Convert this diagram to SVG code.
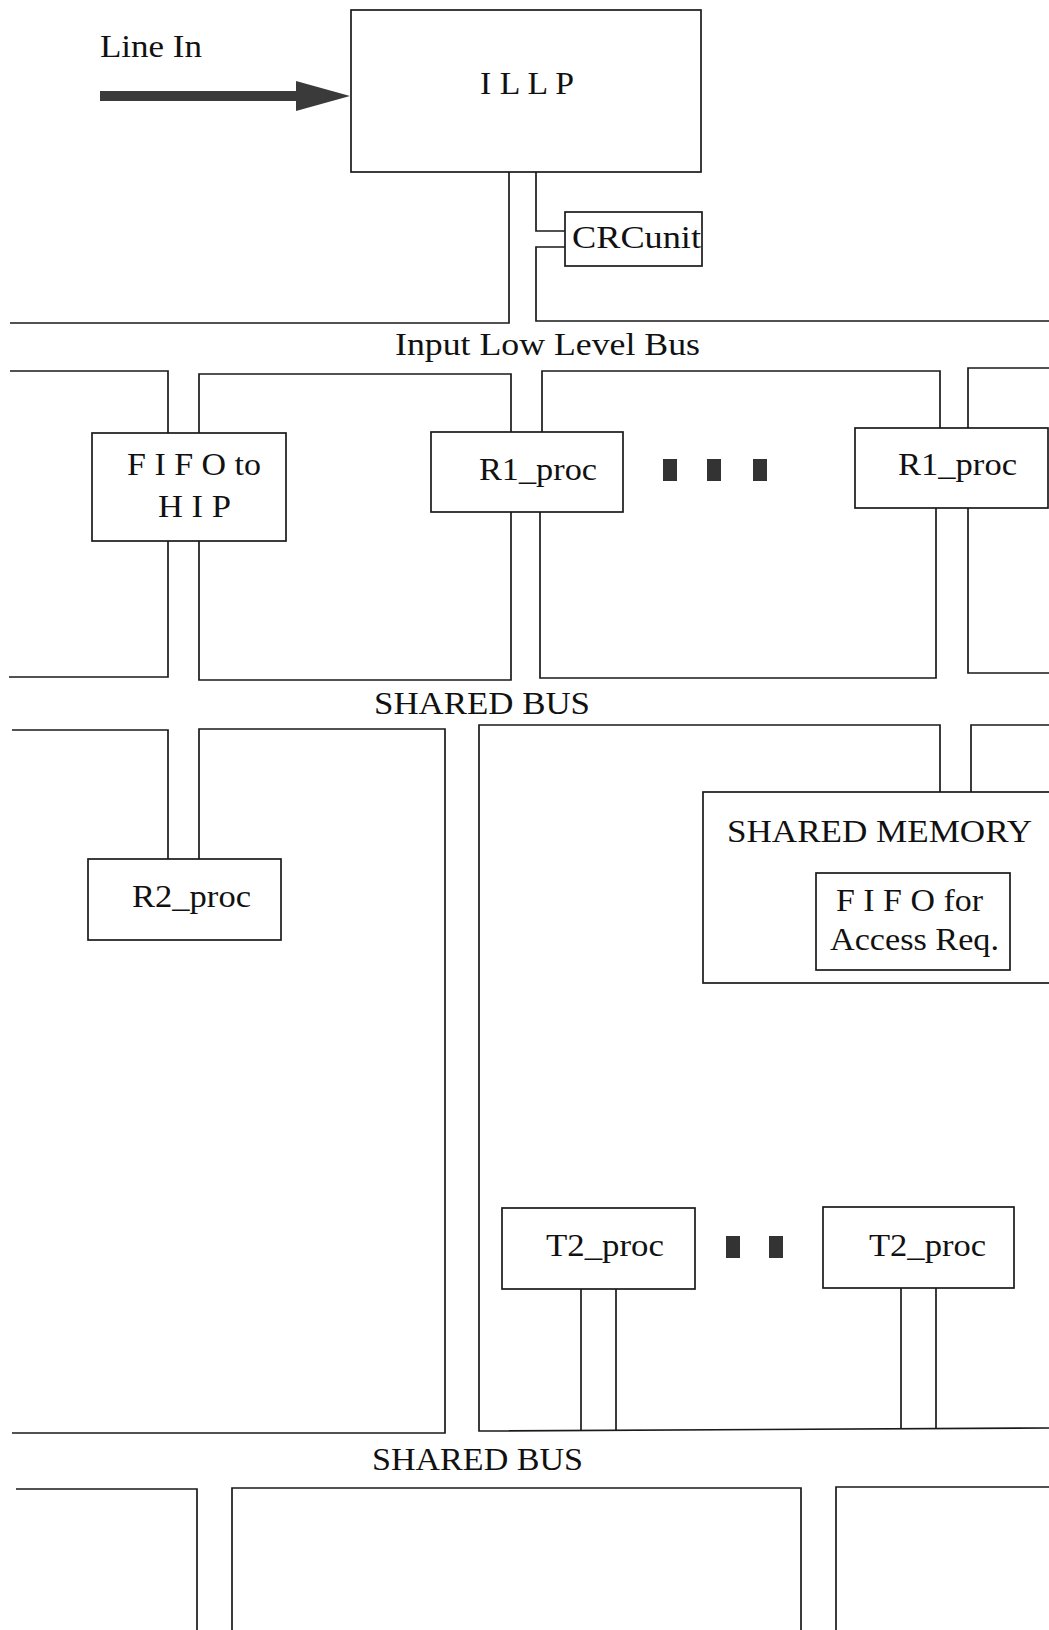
<svg xmlns="http://www.w3.org/2000/svg" width="1049" height="1630" viewBox="0 0 1049 1630">
<defs>
<style>
.box{fill:#fff;stroke:#1a1a1a;stroke-width:1.7}
.wire{fill:none;stroke:#1a1a1a;stroke-width:1.7}
.t{font-family:"Liberation Serif","DejaVu Serif",serif;font-size:31px;fill:#111}
.dot{fill:#333}
</style>
</defs>
<rect x="0" y="0" width="1049" height="1630" fill="#fff"/>

<g id="line-in">
<text class="t" x="100" y="57" textLength="102" lengthAdjust="spacingAndGlyphs">Line In</text>
<rect x="100" y="91" width="198" height="10" fill="#3a3a3a"/>
<polygon points="296,81 350,96 296,111" fill="#3a3a3a"/>
</g>

<g id="connectors">
<path class="wire" d="M509 172 V323 H10"/>
<path class="wire" d="M536 172 V231 H565"/>
<path class="wire" d="M565 247 H536 V321 H1049"/>
<path class="wire" d="M10 371 H168 V433"/>
<path class="wire" d="M199 433 V374 H511 V432"/>
<path class="wire" d="M542 432 V371 H940 V428"/>
<path class="wire" d="M968 428 V368 H1049"/>
<path class="wire" d="M168 541 V677 H9"/>
<path class="wire" d="M199 541 V680 H511 V512"/>
<path class="wire" d="M540 512 V678 H936 V508"/>
<path class="wire" d="M968 508 V673 H1049"/>
<path class="wire" d="M12 730 H168 V859"/>
<path class="wire" d="M199 859 V729 H445 V1433 H12"/>
<path class="wire" d="M940 792 V725 H479 V1431 L1049 1428"/>
<path class="wire" d="M581 1289 V1431"/>
<path class="wire" d="M616 1289 V1431"/>
<path class="wire" d="M901 1288 V1429"/>
<path class="wire" d="M936 1288 V1429"/>
<path class="wire" d="M971 792 V725 H1049"/>
<path class="wire" d="M16 1489 H197 V1630"/>
<path class="wire" d="M232 1630 V1488 H801 V1630"/>
<path class="wire" d="M836 1630 V1487 H1049"/>
</g>

<g id="illp">
<rect class="box" x="351" y="10" width="350" height="162"/>
<text class="t" x="480" y="94" textLength="94" lengthAdjust="spacingAndGlyphs">I L L P</text>
</g>

<g id="crcunit">
<rect class="box" x="565" y="212" width="137" height="54"/>
<text class="t" x="572" y="248" textLength="129" lengthAdjust="spacingAndGlyphs">CRCunit</text>
</g>

<g id="label-input-bus">
<text class="t" x="395" y="355" textLength="305" lengthAdjust="spacingAndGlyphs">Input Low Level Bus</text>
</g>

<g id="fifo-hip">
<rect class="box" x="92" y="433" width="194" height="108"/>
<text class="t" x="127" y="475" textLength="134" lengthAdjust="spacingAndGlyphs">F I F O to</text>
<text class="t" x="158" y="517" textLength="73" lengthAdjust="spacingAndGlyphs">H I P</text>
</g>

<g id="r1proc-1">
<rect class="box" x="431" y="432" width="192" height="80"/>
<text class="t" x="479" y="480" textLength="118" lengthAdjust="spacingAndGlyphs">R1_proc</text>
</g>

<g id="dots-r1">
<rect class="dot" x="663" y="459" width="14" height="22"/>
<rect class="dot" x="707" y="459" width="14" height="22"/>
<rect class="dot" x="753" y="459" width="14" height="22"/>
</g>

<g id="r1proc-2">
<rect class="box" x="855" y="428" width="193" height="80"/>
<text class="t" x="898" y="475" textLength="119" lengthAdjust="spacingAndGlyphs">R1_proc</text>
</g>

<g id="label-shared-bus-1">
<text class="t" x="374" y="714" textLength="216" lengthAdjust="spacingAndGlyphs">SHARED BUS</text>
</g>

<g id="r2proc">
<rect class="box" x="88" y="859" width="193" height="81"/>
<text class="t" x="132" y="907" textLength="119" lengthAdjust="spacingAndGlyphs">R2_proc</text>
</g>

<g id="shared-memory">
<rect class="box" x="703" y="792" width="360" height="191"/>
<text class="t" x="727" y="842" textLength="305" lengthAdjust="spacingAndGlyphs">SHARED MEMORY</text>
</g>

<g id="fifo-access">
<rect class="box" x="816" y="873" width="194" height="97"/>
<text class="t" x="836" y="911" textLength="147" lengthAdjust="spacingAndGlyphs">F I F O for</text>
<text class="t" x="830" y="950" textLength="169" lengthAdjust="spacingAndGlyphs">Access Req.</text>
</g>

<g id="t2proc-1">
<rect class="box" x="502" y="1208" width="193" height="81"/>
<text class="t" x="546" y="1256" textLength="118" lengthAdjust="spacingAndGlyphs">T2_proc</text>
</g>

<g id="dots-t2">
<rect class="dot" x="726" y="1236" width="14" height="22"/>
<rect class="dot" x="769" y="1236" width="14" height="22"/>
</g>

<g id="t2proc-2">
<rect class="box" x="823" y="1207" width="191" height="81"/>
<text class="t" x="869" y="1256" textLength="117" lengthAdjust="spacingAndGlyphs">T2_proc</text>
</g>

<g id="label-shared-bus-2">
<text class="t" x="372" y="1470" textLength="211" lengthAdjust="spacingAndGlyphs">SHARED BUS</text>
</g>
</svg>
